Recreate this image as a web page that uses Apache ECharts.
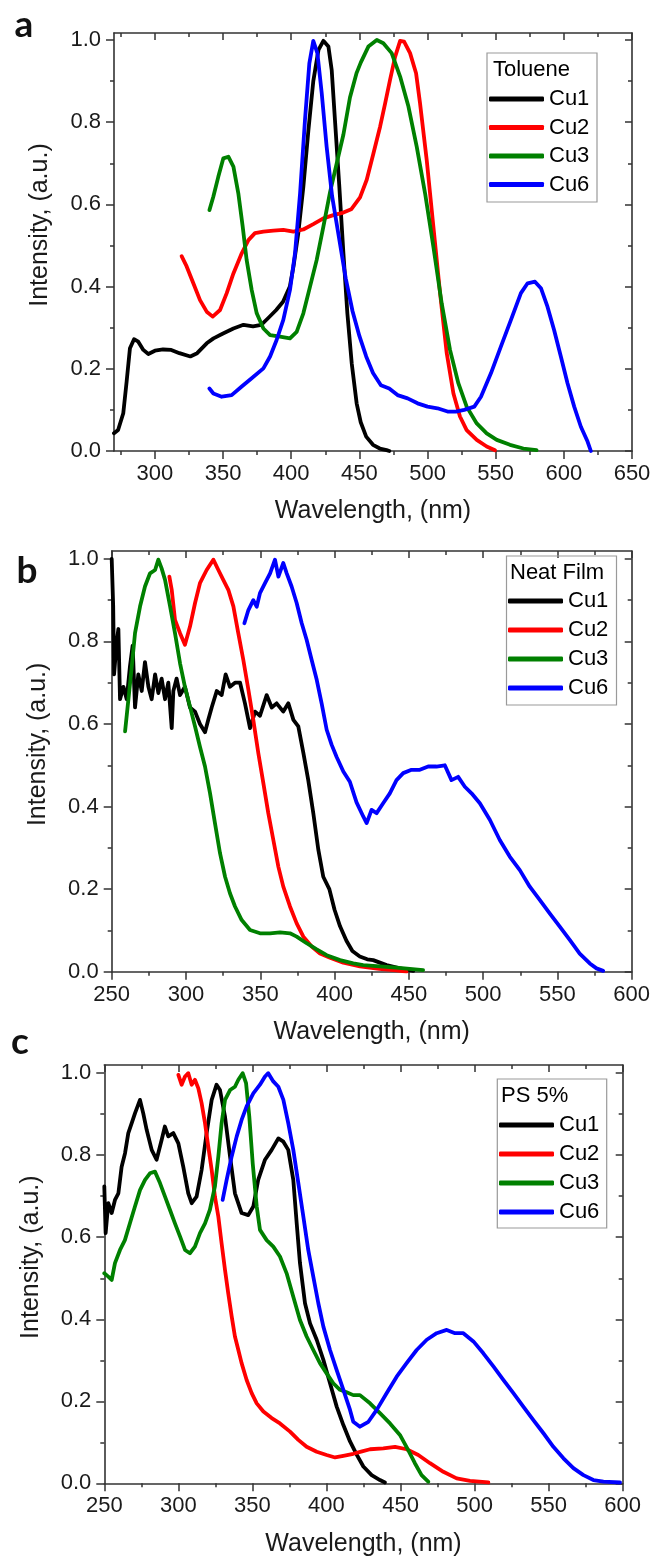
<!DOCTYPE html>
<html><head><meta charset="utf-8">
<script src="https://cdn.jsdelivr.net/npm/echarts@6/dist/echarts.min.js"></script>
<style>html,body{margin:0;padding:0;background:#fff}#c{width:654px;height:1557px}</style>
</head><body><div id="c"></div><script>
// ---------- data (wavelength nm, normalized intensity) ----------
const seriesNames = ['Cu1','Cu2','Cu3','Cu6'];
const seriesColors = ['#000000','#ff0000','#008000','#0000ff'];
const legendTitles = ['Toluene','Neat Film','PS 5%'];
const panelLetters = ['a','b','c'];
const xTitle = 'Wavelength, (nm)';
const yTitle = 'Intensity, (a.u.)';
const xTicksA = [300,350,400,450,500,550,600,650];
const xMinorA = [275,325,375,425,475,525,575,625];
const xTicksBC = [250,300,350,400,450,500,550,600];
const xMinorBC = [275,325,375,425,475,525,575];
const yTicks = [0,0.2,0.4,0.6,0.8,1.0];
const yMinor = [0.1,0.3,0.5,0.7,0.9];

const aCu1 = [[270,0.043],[273,0.051],[276.8,0.092],[279.3,0.17],[281.7,0.25],[284.7,0.272],[287.8,0.266],[291.5,0.246],[295.2,0.236],[300,0.244],[306,0.247],[312,0.246],[318,0.238],[326,0.23],[331,0.238],[338,0.262],[343,0.274],[350,0.286],[357.6,0.298],[365,0.307],[372,0.303],[378,0.307],[383,0.323],[389,0.343],[394,0.363],[399,0.40],[401.6,0.448],[405.2,0.53],[408.9,0.643],[412.6,0.78],[416.2,0.90],[420,0.976],[423.6,0.998],[427.3,0.984],[429.7,0.927],[432.1,0.805],[435.3,0.643],[438.3,0.481],[441.2,0.335],[444.4,0.213],[448,0.116],[451,0.07],[455,0.035],[460,0.015],[465,0.006],[470,0.002],[472,0]];
const aCu2 = [[319.6,0.474],[323.3,0.449],[328.2,0.408],[333.1,0.367],[338,0.339],[342.4,0.327],[347.8,0.343],[352.7,0.384],[357.6,0.432],[363.7,0.481],[368.6,0.513],[373.4,0.53],[379.6,0.534],[386.9,0.536],[394.2,0.538],[401.6,0.534],[408.9,0.539],[416.2,0.552],[423.6,0.566],[430.9,0.574],[438.3,0.58],[444,0.588],[450.5,0.617],[455.4,0.66],[460.3,0.724],[465.2,0.789],[468.9,0.846],[472.5,0.903],[476.2,0.959],[479.9,0.998],[482.8,0.996],[487.2,0.968],[491.6,0.919],[494.5,0.846],[499.4,0.708],[504.3,0.546],[509.2,0.384],[514.1,0.238],[519,0.14],[523.8,0.084],[528.7,0.051],[536.1,0.027],[543.4,0.011],[549.5,0.002]];
const aCu3 = [[340,0.586],[342.9,0.619],[346.5,0.667],[350.2,0.712],[353.9,0.716],[357.6,0.692],[361.2,0.627],[364.4,0.546],[367.3,0.465],[371,0.392],[374.7,0.335],[379.6,0.298],[384.5,0.282],[391.8,0.278],[399.1,0.274],[404,0.29],[408.9,0.335],[413.8,0.40],[418.7,0.465],[423.6,0.546],[428.5,0.63],[433.4,0.70],[438.3,0.77],[443.1,0.86],[448,0.92],[451,0.945],[456.6,0.984],[462.8,1.0],[467.6,0.992],[473.7,0.968],[479.9,0.911],[486,0.838],[492.1,0.74],[498.2,0.627],[504.3,0.497],[510.4,0.359],[516.5,0.246],[522.6,0.165],[528.7,0.108],[536.1,0.067],[543.4,0.043],[550.8,0.027],[560.5,0.015],[570.3,0.006],[580,0.002]];
const aCu6 = [[340,0.152],[342.9,0.14],[349,0.132],[356.3,0.136],[363.7,0.157],[371,0.177],[379.6,0.201],[384.5,0.23],[389.3,0.27],[394.2,0.319],[399.1,0.392],[402.8,0.481],[406.5,0.627],[410.1,0.805],[413.3,0.943],[416.2,0.998],[419.2,0.968],[422.4,0.87],[426,0.74],[430,0.62],[435,0.52],[440,0.42],[445,0.34],[450,0.28],[455,0.23],[460,0.19],[465.8,0.16],[471.9,0.152],[478,0.136],[485.4,0.128],[492.7,0.116],[500,0.108],[507.3,0.104],[514.7,0.096],[520.8,0.096],[526.9,0.10],[534.3,0.108],[539.2,0.132],[546.5,0.189],[553.8,0.254],[561.2,0.319],[568.5,0.384],[573.4,0.408],[578.8,0.412],[583.2,0.396],[588,0.351],[592.9,0.294],[597.8,0.23],[602.7,0.165],[607.6,0.108],[612.5,0.059],[617.4,0.023],[619.8,0]];

const bCu1 = [[250,1.0],[251,0.885],[251.6,0.72],[253.4,0.80],[254.5,0.83],[255.6,0.66],[257.9,0.69],[260.1,0.66],[262.3,0.74],[264.1,0.79],[265.7,0.64],[267.9,0.72],[270.2,0.68],[272.4,0.75],[274.7,0.69],[276.9,0.66],[279.2,0.72],[281.4,0.675],[283.6,0.71],[285.9,0.66],[288.1,0.70],[290.4,0.59],[291.5,0.68],[293.7,0.71],[296,0.67],[299.3,0.69],[302.7,0.64],[306.1,0.63],[309.4,0.60],[312.8,0.58],[315,0.61],[317.3,0.64],[320.7,0.68],[324,0.67],[326.7,0.72],[329.6,0.69],[333,0.70],[336.4,0.70],[339.7,0.65],[343.1,0.59],[346.5,0.63],[349.8,0.62],[354.3,0.67],[357.7,0.64],[361,0.65],[365.5,0.63],[368.9,0.65],[372.3,0.61],[375.6,0.594],[379,0.53],[382.3,0.464],[385.7,0.384],[389.1,0.295],[392.4,0.23],[396.5,0.2],[400,0.15],[403.7,0.11],[408,0.075],[412,0.05],[417,0.037],[422,0.03],[426,0.028],[435,0.016],[444,0.008],[453,0.002]];
const bCu2 = [[288.8,0.957],[290.4,0.925],[292.6,0.852],[296,0.82],[299.3,0.792],[302.7,0.836],[306.1,0.893],[309.4,0.941],[313.9,0.973],[318.4,0.998],[321.8,0.973],[325.1,0.949],[328.5,0.925],[331.9,0.885],[335.2,0.82],[338.6,0.755],[342,0.683],[345.3,0.61],[348.7,0.529],[352.1,0.456],[355.4,0.384],[358.8,0.319],[362.2,0.254],[365.5,0.206],[370,0.158],[374.5,0.117],[379,0.085],[384.6,0.061],[390.2,0.044],[396.9,0.034],[405.9,0.022],[417.1,0.013],[430,0.007],[441.7,0.003],[448.4,0]];
const bCu3 = [[259,0.582],[261.2,0.658],[263.5,0.739],[265.7,0.82],[269.1,0.885],[272.4,0.933],[275.8,0.965],[279.2,0.973],[281.4,0.998],[283.6,0.977],[285.9,0.949],[289.3,0.885],[292.6,0.82],[296,0.747],[299.3,0.69],[302.7,0.642],[306.1,0.594],[309.4,0.545],[312.8,0.497],[316.2,0.432],[319.5,0.36],[322.9,0.287],[326.3,0.23],[329.6,0.19],[333,0.158],[337.5,0.125],[343.1,0.101],[349.8,0.093],[356.6,0.093],[363.3,0.095],[370,0.093],[374.5,0.085],[381.2,0.069],[388,0.054],[394.7,0.04],[403.7,0.028],[412.6,0.02],[419.3,0.016],[441.7,0.01],[459.6,0.004]];
const bCu6 = [[339.3,0.844],[342,0.876],[345.3,0.90],[347.6,0.884],[349.8,0.917],[353.2,0.941],[356.6,0.965],[359.9,0.998],[362.2,0.957],[365.5,0.99],[367.8,0.965],[371.1,0.933],[374.5,0.893],[377.9,0.844],[381.2,0.804],[384.6,0.755],[388,0.707],[391.3,0.65],[394.7,0.586],[398,0.55],[401.4,0.52],[405.9,0.485],[410.3,0.46],[414.8,0.41],[419.3,0.376],[421.6,0.36],[424.9,0.392],[428.3,0.384],[432.7,0.408],[437.2,0.432],[441.7,0.464],[446.2,0.481],[451.8,0.489],[457.4,0.489],[463,0.497],[468.6,0.497],[474.2,0.50],[478.7,0.464],[483.2,0.472],[487.7,0.448],[492.2,0.432],[497.8,0.408],[504.5,0.368],[511.2,0.319],[517.9,0.279],[524.7,0.246],[531.4,0.206],[538.1,0.174],[544.8,0.141],[551.6,0.109],[558.3,0.077],[565,0.044],[571.8,0.02],[576.3,0.008],[580.8,0.002]];

const cCu1 = [[250,0.724],[250.9,0.61],[252.7,0.683],[255,0.659],[257.2,0.691],[259.5,0.707],[261.7,0.772],[264,0.805],[266.2,0.854],[268.5,0.878],[270.7,0.902],[274.1,0.935],[276.3,0.902],[278.6,0.862],[282,0.813],[285.3,0.789],[288.7,0.837],[290.9,0.87],[293.2,0.846],[296.6,0.854],[300,0.829],[303.3,0.772],[306.7,0.707],[309,0.683],[312.3,0.699],[315.7,0.764],[319.1,0.854],[322.5,0.935],[325.8,0.972],[328.1,0.959],[331.5,0.894],[334.9,0.797],[338.2,0.707],[342.7,0.659],[347.2,0.654],[350.6,0.675],[353.9,0.74],[358.5,0.789],[363,0.813],[367.5,0.841],[370.9,0.833],[374.2,0.813],[377.6,0.74],[379.9,0.634],[382.1,0.537],[385.5,0.439],[388.9,0.39],[393.4,0.35],[397.9,0.301],[402.4,0.244],[406.9,0.187],[411.4,0.142],[415.9,0.102],[420.4,0.07],[424.9,0.041],[430.5,0.02],[436.1,0.008],[439.5,0.002]];
const cCu2 = [[300,0.996],[302.2,0.972],[304.5,0.992],[306.7,1.0],[309,0.972],[311.2,0.984],[313.5,0.963],[315.7,0.927],[318,0.878],[320.2,0.821],[322.5,0.764],[324.7,0.699],[327,0.65],[329.2,0.585],[331.5,0.52],[333.7,0.463],[336,0.407],[338.2,0.358],[340.5,0.325],[342.7,0.293],[346.1,0.252],[349.5,0.22],[352.9,0.195],[357.4,0.175],[363,0.159],[368.6,0.146],[375.4,0.126],[381,0.106],[386.6,0.089],[393.4,0.077],[400.1,0.069],[405.8,0.063],[411.4,0.067],[418.1,0.072],[424,0.078],[429.4,0.083],[438.4,0.085],[446.3,0.089],[454.1,0.083],[462,0.069],[469.9,0.049],[478.9,0.028],[487.9,0.012],[496.9,0.006],[509.3,0.002]];
const cCu3 = [[250,0.512],[252.7,0.504],[255,0.496],[257.2,0.537],[260.6,0.569],[263.9,0.593],[267.3,0.634],[270.7,0.675],[274.1,0.715],[277.5,0.74],[280.8,0.756],[284.2,0.76],[287.6,0.732],[291,0.699],[294.3,0.667],[297.7,0.634],[301.1,0.602],[304.5,0.569],[307.8,0.561],[311.2,0.577],[314.6,0.61],[318,0.634],[321.3,0.667],[324.7,0.724],[327,0.797],[329.2,0.878],[331.5,0.935],[334.9,0.959],[338.2,0.967],[340.5,0.984],[343.4,1.0],[345.7,0.976],[347.9,0.894],[350.2,0.78],[352.9,0.675],[355.1,0.618],[359.6,0.593],[364.1,0.577],[368.6,0.553],[373.1,0.512],[377.6,0.455],[382.1,0.398],[386.6,0.358],[391.1,0.325],[395.6,0.293],[400.1,0.268],[404.6,0.244],[409.1,0.228],[413.6,0.222],[418.1,0.215],[422.6,0.215],[429.4,0.195],[436.1,0.171],[442.9,0.146],[449.6,0.118],[455.2,0.081],[459.7,0.049],[464.2,0.02],[468.7,0.004]];
const cCu6 = [[329.9,0.691],[332.6,0.74],[336,0.797],[339.4,0.846],[342.7,0.886],[346.1,0.919],[350.6,0.951],[355.1,0.972],[358.5,0.992],[360.7,1.0],[364.1,0.98],[367.5,0.967],[370.9,0.935],[374.2,0.878],[377.6,0.813],[381,0.732],[384.4,0.65],[387.7,0.569],[391.1,0.504],[394.5,0.439],[397.9,0.382],[402.4,0.325],[406.9,0.276],[411.4,0.228],[415.9,0.179],[418.1,0.15],[422.6,0.138],[428.3,0.15],[433.9,0.179],[440.7,0.22],[447.4,0.26],[454.1,0.293],[460.9,0.325],[467.7,0.35],[474.4,0.366],[481.2,0.374],[486.8,0.366],[492.4,0.366],[499.2,0.346],[505.9,0.317],[512.7,0.285],[519.4,0.252],[526.2,0.22],[532.9,0.187],[539.7,0.154],[546.5,0.122],[553.2,0.089],[560,0.061],[566.7,0.037],[573.5,0.02],[580.2,0.008],[587,0.004],[598.2,0.002]];

const panelData = [[aCu1,aCu2,aCu3,aCu6],[bCu1,bCu2,bCu3,bCu6],[cCu1,cCu2,cCu3,cCu6]];
const xRanges = [[270,650],[250,600],[250,600]];
const yMaxes = [1.017,1.019,1.020];

// ---------- layout ----------
const FONT = "'Liberation Sans', Arial, sans-serif";
const grids = [
  {left:114, top:33, width:518, height:418},
  {left:111.7, top:551, width:520, height:420.7},
  {left:104.3, top:1065, width:518.4, height:418.3}
];
const legendPos = [
  {left:489, top:88, gap:6.5, box:[487,53,110,149], title:[493,70]},
  {left:508, top:590, gap:7, box:[506.5,556,110,149], title:[510,573]},
  {left:499, top:1114, gap:7, box:[497.3,1079,109.4,149], title:[501,1096]}
];
const letterPos = [[24,25],[27,571],[20,1042]];

const AX = '#333';
const xAxes = [], yAxes = [], series = [], legends = [], graphics = [];

for (let p = 0; p < 3; p++) {
  const xMajor = p === 0 ? xTicksA : xTicksBC;
  const xMinor = p === 0 ? xMinorA : xMinorBC;
  const [xmin, xmax] = xRanges[p];
  const ymax = yMaxes[p];
  const mkX = (pos, major, showLine, showLabel, inside, len, name) => ({
    gridIndex: p, type: 'value', position: pos, min: xmin, max: xmax,
    axisLine: {show: showLine, onZero: false, lineStyle: {color: AX, width: 1.6}},
    axisTick: {show: true, inside: inside, length: len, customValues: major, lineStyle: {color: AX, width: 1.5}},
    axisLabel: {show: showLabel, customValues: major, margin: 12, fontSize: 22, fontFamily: FONT, color: '#1a1a1a'},
    splitLine: {show: false},
    name: name || '', nameLocation: 'middle', nameGap: 48, nameMoveOverlap: false,
    nameTextStyle: {fontSize: 25, fontFamily: FONT, color: '#1a1a1a'}
  });
  const mkY = (pos, major, showLine, showLabel, inside, len, name) => ({
    gridIndex: p, type: 'value', position: pos, min: 0, max: ymax,
    axisLine: {show: showLine, onZero: false, lineStyle: {color: AX, width: 1.6}},
    axisTick: {show: true, inside: inside, length: len, customValues: major, lineStyle: {color: AX, width: 1.5}},
    axisLabel: {show: showLabel, customValues: major, margin: 13, fontSize: 22, fontFamily: FONT, color: '#1a1a1a',
      formatter: v => v.toFixed(1)},
    splitLine: {show: false},
    name: name || '', nameLocation: 'middle', nameGap: 61, nameMoveOverlap: false,
    nameTextStyle: {fontSize: 25, fontFamily: FONT, color: '#1a1a1a', padding: [0, 0, 0, 34]}
  });
  const xi = xAxes.length, yi = yAxes.length;
  xAxes.push(mkX('bottom', xMajor, true, true, false, 8, xTitle));
  xAxes.push(mkX('bottom', xMinor, false, false, false, 4));
  xAxes.push(mkX('top', xMajor, true, false, true, 7));
  xAxes.push(mkX('top', xMinor, false, false, true, 4));
  yAxes.push(mkY('left', yTicks, true, true, false, 8, yTitle));
  yAxes.push(mkY('left', yMinor, false, false, false, 4));
  yAxes.push(mkY('right', yTicks, true, false, true, 7));
  yAxes.push(mkY('right', yMinor, false, false, true, 4));

  panelData[p].forEach((d, k) => {
    series.push({
      type: 'line', name: seriesNames[k], xAxisIndex: xi, yAxisIndex: yi,
      data: d, showSymbol: false, symbol: 'none', smooth: false,
      lineStyle: {color: seriesColors[k], width: 3.8, cap: 'round', join: 'round'}, itemStyle: {color: seriesColors[k]},
      z: 3 + k, animation: false
    });
  });

  const L = legendPos[p];
  legends.push({
    show: true, orient: 'vertical', left: L.left, top: L.top, padding: 0, itemGap: L.gap,
    itemWidth: 55, itemHeight: 5, icon: 'roundRect', selectedMode: false,
    textStyle: {fontSize: 22, fontFamily: FONT, color: '#000', lineHeight: 22},
    data: seriesNames.slice()
  });
  graphics.push({type: 'rect', shape: {x: L.box[0], y: L.box[1], width: L.box[2], height: L.box[3]},
    style: {fill: 'none', stroke: '#9a9a9a', lineWidth: 1.2}, z: 10});
  graphics.push({type: 'text', x: L.title[0], y: L.title[1], z: 10,
    style: {text: legendTitles[p], fontSize: 22, fontFamily: FONT, fill: '#000', verticalAlign: 'middle', align: 'left'}});
  graphics.push({type: 'text', x: letterPos[p][0], y: letterPos[p][1], z: 10,
    style: {text: panelLetters[p], fontSize: 37, fontWeight: 'bold', fontFamily: "Lato, 'Open Sans', sans-serif", fill: '#111', verticalAlign: 'middle', align: 'center'}});
}

const chart = echarts.init(document.getElementById('c'), null, {renderer: 'canvas'});
chart.setOption({
  animation: false,
  backgroundColor: '#fff',
  grid: grids.map(g => Object.assign({containLabel: false, outerBoundsMode: 'none'}, g)),
  xAxis: xAxes, yAxis: yAxes, series: series, legend: legends, graphic: graphics
});
</script></body></html>
